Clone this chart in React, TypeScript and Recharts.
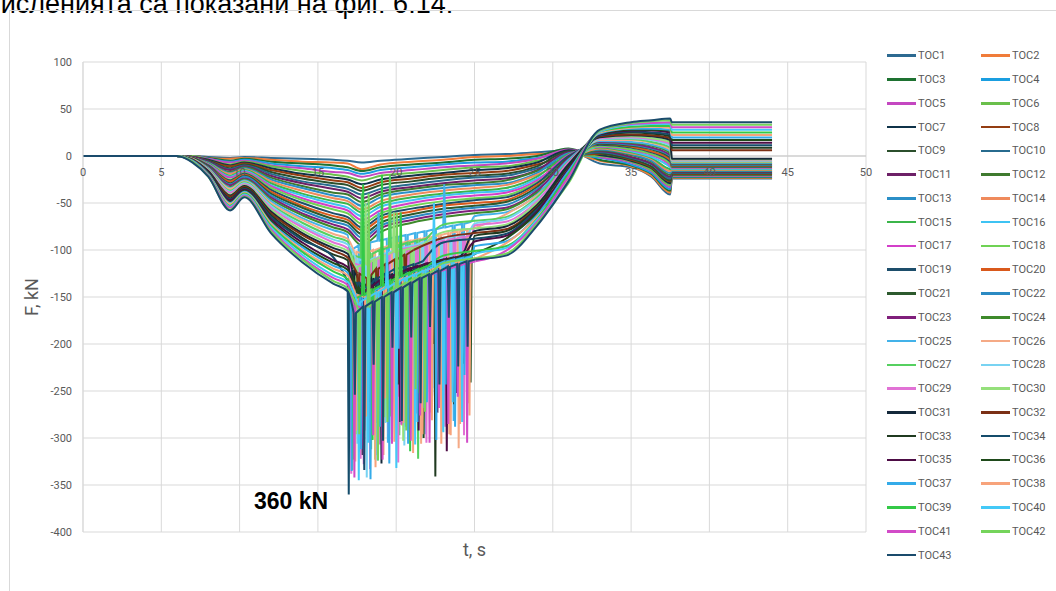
import React from 'react';
import { LineChart, Line, XAxis, YAxis, CartesianGrid, ReferenceLine, Label } from 'recharts';

// sample times of the smooth part of every record, s
const times = [0, 6, 7, 8, 9.4, 10.3, 12, 14, 16, 16.9, 17.8, 19, 21, 23, 25, 27, 29, 31, 33, 35, 36.3, 37.5, 37.6, 44];

// force F, kN at the times above
const toc1 = [0, 0, 0, -1, -2, -1, -2, -3, -4, -5, -7, -5, -3, -1, 1, 2, 4, 6, -8, -12, -22, -41, -24, -24];
const toc2 = [0, 0, 0, -2, -3, -2, -4, -6, -7, -8, -14, -9, -6, -4, -1, 0, 2, 3, -5, -11, -21, -39, -23.3, -23.3];
const toc3 = [0, 0, 0, -2, -5, -3, -6, -8, -10, -12, -16, -12, -9, -7, -4, -3, 0, 8, -4, -10, -19, -37, -22.6, -22.6];
const toc4 = [0, 0, 0, -3, -6, -4, -8, -11, -13, -15, -19, -15, -12, -9, -7, -6, -2, 2, -2, -9, -18, -35, -21.9, -21.9];
const toc5 = [0, 0, 0, -3, -7, -5, -10, -13, -17, -18, -22, -18, -15, -12, -10, -8, -3, 7, -1, -7, -16, -33, -21.2, -21.2];
const toc6 = [0, 0, 0, -4, -9, -6, -11, -16, -20, -22, -26, -21, -18, -15, -12, -11, -5, 1, 0, -6, -15, -31, -20.5, -20.5];
const toc7 = [0, 0, -1, -4, -10, -7, -13, -19, -23, -25, -30, -25, -21, -18, -15, -13, -7, 6, 1, -5, -13, -29, -19.8, -19.8];
const toc8 = [0, 0, -1, -5, -11, -8, -15, -21, -26, -28, -34, -28, -24, -20, -18, -16, -9, 0, 2, -4, -12, -27, -19.1, -19.1];
const toc9 = [0, 0, -1, -5, -13, -9, -17, -24, -29, -31, -37, -31, -27, -23, -21, -19, -11, 5, 3, -3, -11, -26, -18.4, -18.4];
const toc10 = [0, 0, -1, -6, -14, -10, -19, -27, -32, -35, -41, -35, -30, -26, -23, -21, -13, -2, 4, -2, -9, -24, -17.7, -17.7];
const toc11 = [0, 0, -1, -6, -15, -11, -21, -29, -35, -38, -45, -38, -33, -29, -26, -24, -15, 4, 5, -1, -8, -22, -17, -17];
const toc12 = [0, 0, -2, -7, -17, -12, -23, -32, -39, -41, -49, -41, -35, -31, -29, -26, -16, -3, 6, 1, -6, -20, -16.3, -16.3];
const toc13 = [0, 0, -2, -7, -18, -13, -25, -34, -42, -45, -53, -44, -38, -34, -31, -29, -18, 3, 7, 2, -5, -18, -15.6, -15.6];
const toc14 = [0, 0, -2, -8, -19, -14, -27, -37, -45, -48, -57, -48, -41, -37, -34, -31, -20, -4, 8, 3, -3, -16, -14.9, -14.9];
const toc15 = [0, 0, -2, -8, -21, -15, -29, -40, -48, -51, -60, -51, -44, -40, -37, -34, -22, 2, 9, 4, -2, -14, -14.2, -14.2];
const toc16 = [0, 0, -2, -9, -22, -16, -31, -42, -51, -55, -64, -54, -47, -42, -39, -37, -24, -6, 10, 5, -1, -12, -13.5, -13.5];
const toc17 = [0, 0, -2, -9, -23, -17, -32, -45, -54, -58, -68, -58, -50, -45, -42, -39, -26, 1, 10, 6, 1, -10, -12.8, -12.8];
const toc18 = [0, 0, -2, -10, -25, -18, -34, -47, -57, -61, -72, -61, -53, -48, -45, -42, -28, -7, 11, 7, 2, -8, -12.1, -12.1];
const toc19 = [0, 0, -2, -10, -26, -19, -36, -50, -61, -65, -76, -64, -56, -51, -47, -44, -29, 0, 12, 9, 4, -6, -11.4, -11.4];
const toc20 = [0, 0, -2, -11, -27, -20, -38, -53, -64, -68, -79, -67, -59, -53, -50, -47, -31, -8, 13, 10, 5, -4, -10.7, -10.7];
const toc21 = [0, 0, -2, -11, -29, -21, -40, -55, -67, -71, -83, -71, -62, -56, -53, -49, -33, -2, 13, 11, 7, -2, -10, -10];
const toc22 = [0, 0, -3, -12, -30, -22, -42, -58, -70, -74, -87, -74, -65, -59, -55, -52, -35, -10, 14, 12, 8, 0, -9.3, -9.3];
const toc23 = [0, 0, -3, -12, -31, -24, -44, -61, -73, -78, -91, -77, -68, -62, -58, -55, -37, -3, 15, 13, 9, 1, -8.6, -8.6];
const toc24 = [0, 0, -3, -13, -33, -25, -46, -63, -76, -81, -95, -81, -71, -65, -61, -57, -39, -12, 16, 14, 11, 3, -7.9, -7.9];
const toc25 = [0, 0, -3, -13, -34, -26, -48, -66, -79, -84, -98, -84, -74, -67, -64, -60, -41, -4, 16, 15, 12, 5, -7.2, -7.2];
const toc26 = [0, 0, -3, -14, -35, -27, -50, -68, -83, -88, -102, -87, -77, -70, -66, -62, -42, -13, 17, 17, 14, 7, -6.5, -6.5];
const toc27 = [0, 0, -4, -14, -37, -28, -52, -71, -86, -91, -106, -90, -80, -73, -69, -65, -44, -6, 18, 18, 15, 9, -5.8, -5.8];
const toc28 = [0, 0, -4, -15, -38, -29, -53, -74, -89, -94, -110, -94, -83, -76, -72, -67, -46, -15, 18, 19, 17, 11, -5.1, -5.1];
const toc29 = [0, 0, -4, -15, -39, -30, -55, -76, -92, -98, -114, -97, -86, -78, -74, -70, -48, -7, 19, 20, 18, 13, -4.4, -4.4];
const toc30 = [0, 0, -4, -16, -41, -31, -57, -79, -95, -101, -118, -100, -89, -81, -77, -73, -50, -17, 20, 21, 19, 15, -3.7, -3.7];
const toc31 = [0, 0, -4, -16, -42, -32, -59, -82, -98, -104, -121, -104, -92, -84, -80, -75, -52, -9, 20, 22, 21, 17, -3, -3];
const toc32 = [0, 0, -4, -17, -43, -33, -61, -84, -101, -108, -125, -107, -95, -87, -82, -78, -54, -19, 21, 23, 22, 19, 6, 6];
const toc33 = [0, 0, -5, -17, -45, -34, -63, -87, -105, -111, -129, -110, -97, -89, -85, -80, -55, -11, 22, 25, 24, 21, 8.7, 8.7];
const toc34 = [0, 0, -5, -18, -46, -35, -65, -89, -108, -114, -133, -113, -100, -92, -88, -83, -57, -21, 22, 26, 25, 23, 11.5, 11.5];
const toc35 = [0, 0, -5, -18, -47, -36, -67, -92, -111, -118, -137, -117, -103, -95, -91, -85, -59, -14, 23, 27, 27, 25, 14.2, 14.2];
const toc36 = [0, 0, -5, -19, -49, -37, -69, -95, -114, -121, -140, -120, -106, -98, -93, -88, -61, -23, 24, 28, 28, 27, 16.9, 16.9];
const toc37 = [0, 0, -5, -19, -50, -38, -71, -97, -117, -124, -144, -123, -109, -100, -96, -91, -63, -16, 24, 29, 29, 28, 19.7, 19.7];
const toc38 = [0, 0, -6, -20, -51, -39, -72, -100, -120, -127, -148, -127, -112, -103, -98, -93, -65, -25, 25, 30, 31, 30, 22.4, 22.4];
const toc39 = [0, 0, -6, -20, -53, -40, -74, -102, -123, -131, -152, -130, -115, -106, -101, -96, -67, -19, 26, 31, 32, 32, 25.1, 25.1];
const toc40 = [0, 0, -6, -21, -54, -41, -76, -105, -127, -134, -156, -133, -118, -109, -104, -98, -68, -27, 26, 33, 34, 34, 27.8, 27.8];
const toc41 = [0, 0, -6, -21, -55, -42, -78, -108, -130, -137, -159, -136, -121, -111, -107, -101, -70, -22, 27, 34, 35, 36, 30.6, 30.6];
const toc42 = [0, 0, -6, -22, -57, -43, -80, -110, -133, -141, -163, -140, -124, -114, -109, -104, -72, -29, 27, 35, 37, 38, 33.3, 33.3];
const toc43 = [0, 0, -7, -22, -58, -44, -82, -113, -136, -144, -167, -143, -127, -117, -112, -106, -74, -27, 28, 36, 38, 40, 36, 36];

// oscillating part of TOC25..TOC43: base, peak, base, peak, ... every 0.3 s from its start time
const spikeStep = 0.3;
const spikeStarts = [17.0, 17.32, 17.13, 17.45, 17.06, 17.38, 17.19, 17.51, 17.03, 16.9, 17.16, 17.48, 17.09, 17.41, 17.22, 17.54, 17.26, 17.57, 17.29];
const spike25 = [-100, -285, -95, -315, -92, -262, -90, -60, -88, -305, -86, -245, -84, -275, -82, -228, -80, -296, -78, -255, -76, -30, -74, -282, -72, -238, -70];
const spike26 = [-102, -325, -104, -292, -100, -271, -97, -318, -94, -262, -92, -287, -90, -244, -88, -306, -86, -273, -84, -252, -82, -296, -80, -311, -78, -263, -76];
const spike27 = [-106, -334, -108, -40, -104, -312, -100, -276, -97, -20, -95, -297, -92, -258, -90, -322, -88];
const spike28 = [-110, -306, -112, -342, -108, -318, -104, -284, -100, -266, -97, -308, -95, -254, -92, -281, -90, -247, -88, -293, -86, -236, -84, -268, -82];
const spike29 = [-114, -338, -116, -322, -112, -333, -108, -307, -104, -296, -100, -326, -98, -286, -96, -274, -94, -305, -92, -265, -90, -288, -88, -252, -86, -297, -84];
const spike30 = [-118, -296, -115, -50, -110, -323, -106, -278, -102, -60, -100, -303, -98, -246, -96];
const spike31 = [-121, -243, -140, -318, -130, -222, -150, -327, -125, -204, -140, -283, -120, -193, -130, -262, -115, -184, -120, -251, -110, -172, -112, -233, -100];
const spike32 = [-125, -200, -130, -170, -120, -190, -115, -160, -110, -180, -105, -150, -100];
const spike33 = [-129, -205, -150, -236, -140, -262, -135, -192, -130, -214, -125, -243, -120, -182, -118, -205, -115, -172, -112, -341, -110, -193, -108, -264, -106, -221, -104];
const spike34 = [-133, -360, -135, -254, -140, -203, -130, -284, -125, -192, -120, -233, -118, -171, -115, -212, -112];
const spike35 = [-137, -224, -145, -308, -138, -203, -132, -287, -128, -194, -124, -256, -120, -182, -117, -292, -114, -204, -112, -273, -110, -314, -108, -252, -106];
const spike36 = [-140, -230, -150, -210, -140, -270, -135, -200, -130, -180, -125, -240, -122, -190, -118, -300, -115, -200, -112, -250, -110, -180, -108, -230, -106, -241, -102];
const spike37 = [-144, -335, -150, -312, -146, -344, -140, -288, -135, -327, -130, -205, -125, -306, -122, -283, -118, -262, -115, -302, -112, -243, -110, -288, -108, -233, -106];
const spike38 = [-148, -292, -150, -277, -145, -331, -140, -258, -135, -304, -130, -284, -126, -316, -122, -296, -120, -281, -117, -306, -114, -297, -112, -285, -110, -276, -108];
const spike39 = [-152, -323, -148, -30, -142, -302, -138, -20, -132, -277, -128, -60, -124, -314, -120, -252, -117];
const spike40 = [-156, -345, -150, -305, -145, -324, -140, -100, -135, -332, -130, -288, -126, -307, -122, -268, -118, -50, -115, -294, -112, -262, -110, -283, -108];
const spike41 = [-159, -342, -162, -328, -155, -297, -150, -323, -145, -306, -140, -286, -135, -303, -130, -276, -127, -305, -123, -268, -120, -285, -117, -256, -114, -305, -112];
const spike42 = [-163, -296, -160, -40, -152, -324, -146, -283, -140, -60, -135, -292, -130, -248, -126, -272, -122];
const spike43 = [-167, -254, -160, -334, -155, -222, -150, -303, -145, -204, -140, -282, -135, -193, -130, -263, -126, -182, -122, -243, -118, -172, -115, -224, -112, -203, -110];

const xTicks = [0, 5, 10, 15, 20, 25, 30, 35, 40, 45, 50];
const yTicks = [100, 50, 0, -50, -100, -150, -200, -250, -300, -350, -400];

const colors = [
  '#2d6a91', '#f07c3a', '#1e7231', '#1a9ee0', '#c447c1', '#6abf4b', '#0f3349', '#943d12',
  '#2b4f2c', '#276b8e', '#6d2067', '#3f7a2f', '#2b8fc7', '#ef8a5c', '#3bb54a', '#3ec3f3',
  '#d33fc9', '#6fd254', '#1d4e6b', '#d9591c', '#2d5a2e', '#2b8ac3', '#801f7b', '#3e8a2b',
  '#43b2e9', '#f5aa86', '#56d060', '#78d3f2', '#e172d5', '#95e07b', '#14293b', '#7b3015',
  '#203a20', '#144c6b', '#4d0c45', '#1f4a1b', '#34abe9', '#f7a37b', '#34c947', '#44c9f7',
  '#d24bc8', '#75d45b', '#1a4b6c',
];

const records = [
  toc1, toc2, toc3, toc4, toc5, toc6, toc7, toc8, toc9, toc10, toc11, toc12, toc13, toc14, toc15,
  toc16, toc17, toc18, toc19, toc20, toc21, toc22, toc23, toc24, toc25, toc26, toc27, toc28, toc29,
  toc30, toc31, toc32, toc33, toc34, toc35, toc36, toc37, toc38, toc39, toc40, toc41, toc42, toc43,
];
const spikes = [
  spike25, spike26, spike27, spike28, spike29, spike30, spike31, spike32, spike33, spike34,
  spike35, spike36, spike37, spike38, spike39, spike40, spike41, spike42, spike43,
];
const FIRST_SPIKY = 24;
const PEAK_WIDTH = 0.14; // s, a peak is a short excursion from the base

type Pt = { t: number; v: number };
type Seg = { type: 'monotone' | 'linear'; data: Pt[] };

const series = records.map((vals, i) => {
  const smooth: Pt[] = times.map((t, j) => ({ t, v: vals[j] }));
  const k = i - FIRST_SPIKY;
  const name = `TOC${i + 1}`;
  if (k < 0) return { name, color: colors[i], segs: [{ type: 'monotone', data: smooth }] as Seg[] };
  const spike = spikes[k];
  const start = spikeStarts[k];
  const end = start + spikeStep * (spike.length - 1);
  const burst: Pt[] = [];
  spike.forEach((v, n) => {
    if (n % 2 === 0) {
      burst.push({ t: start + n * spikeStep, v });
    } else {
      const t0 = start + (n - 1) * spikeStep;
      burst.push({ t: t0 + PEAK_WIDTH / 2, v });
      burst.push({ t: t0 + PEAK_WIDTH, v: spike[n - 1] });
    }
  });
  const segs: Seg[] = [
    { type: 'monotone', data: [...smooth.filter((p) => p.t < start), burst[0]] },
    { type: 'linear', data: burst },
    { type: 'monotone', data: [burst[burst.length - 1], ...smooth.filter((p) => p.t > end)] },
  ];
  return { name, color: colors[i], segs };
});

const W = 1056;
const H = 591;
const Y_MIN = -400;
const Y_MAX = 100;
const PLOT_TOP = 62;
const PLOT_BOTTOM = 532;
const zeroY = PLOT_TOP + (Y_MAX / (Y_MAX - Y_MIN)) * (PLOT_BOTTOM - PLOT_TOP);
const FONT = 'Roboto, "Liberation Sans", sans-serif';
const GREY = '#595959';

function XTick({ x, payload }: { x?: number; payload?: { value: number } }) {
  return (
    <text x={x} y={zeroY + 20} textAnchor="middle" fill={GREY} fontSize={11} fontFamily={FONT}>
      {payload?.value}
    </text>
  );
}

function renderXTitle(props: any) {
  const vb = props.viewBox;
  return (
    <text x={vb.x + vb.width / 2} y={vb.y + 24} textAnchor="middle" fill={GREY} fontSize={18} fontFamily={FONT}>
      t, s
    </text>
  );
}

function renderYTitle(props: any) {
  const vb = props.viewBox;
  const cx = vb.x + 31;
  const cy = vb.y + vb.height / 2;
  return (
    <text
      x={cx}
      y={cy}
      transform={`rotate(-90 ${cx} ${cy})`}
      textAnchor="middle"
      dominantBaseline="central"
      fill={GREY}
      fontSize={18}
      fontFamily={FONT}
    >
      F, kN
    </text>
  );
}

function SeriesLegend() {
  return (
    <>
      {series.map((s, i) => {
        const col = i % 2;
        const row = Math.floor(i / 2);
        return (
          <div
            key={s.name}
            style={{
              position: 'absolute',
              left: col ? 981 : 887,
              top: 55.7 + row * 23.78 - 8,
              height: 16,
              display: 'flex',
              alignItems: 'center',
              fontSize: 11,
              color: GREY,
              fontFamily: FONT,
              whiteSpace: 'nowrap',
            }}
          >
            <div style={{ width: 29, height: 2.5, background: s.color, marginRight: 2 }} />
            {s.name}
          </div>
        );
      })}
    </>
  );
}

export default function App() {
  return (
    <div style={{ position: 'absolute', left: 0, top: 0, width: W, height: H, overflow: 'hidden', background: '#fff' }}>
      <div
        style={{
          position: 'absolute',
          left: -40,
          top: -9,
          fontSize: 27,
          lineHeight: '27px',
          fontFamily: '"Liberation Sans", Arial, sans-serif',
          color: '#000',
          whiteSpace: 'nowrap',
        }}
      >
        изчисленията са показани на фиг. 6.14.
      </div>
      <div style={{ position: 'absolute', left: 9, top: 10, width: 1100, height: 700, border: '1px solid #d9d9d9' }} />
      <LineChart
        width={W}
        height={H}
        margin={{ top: PLOT_TOP, right: 190, bottom: 0, left: 0 }}
        style={{ position: 'absolute', left: 0, top: 0 }}
      >
        <CartesianGrid stroke="#d9d9d9" />
        <XAxis
          type="number"
          dataKey="t"
          domain={[0, 50]}
          ticks={xTicks}
          interval={0}
          allowDataOverflow
          height={H - PLOT_BOTTOM}
          axisLine={false}
          tickLine={false}
          tick={<XTick />}
        >
          <Label content={renderXTitle} />
        </XAxis>
        <YAxis
          type="number"
          domain={[Y_MIN, Y_MAX]}
          ticks={yTicks}
          interval={0}
          width={83}
          axisLine={{ stroke: '#d9d9d9' }}
          tickLine={false}
          tickSize={0}
          tickMargin={11}
          tick={{ fill: GREY, fontSize: 11, fontFamily: FONT }}
        >
          <Label content={renderYTitle} />
        </YAxis>
        <ReferenceLine y={0} stroke="#c8c8c8" />
        {series.flatMap((s) =>
          s.segs.map((seg, j) => (
            <Line
              key={`${s.name}-${j}`}
              data={seg.data}
              dataKey="v"
              name={s.name}
              type={seg.type}
              stroke={s.color}
              strokeWidth={2}
              dot={false}
              isAnimationActive={false}
            />
          )),
        )}
      </LineChart>
      <div
        style={{
          position: 'absolute',
          left: 254,
          top: 490,
          fontSize: 23,
          lineHeight: '23px',
          fontWeight: 'bold',
          fontFamily: '"Liberation Sans", Arial, sans-serif',
          color: '#000',
          whiteSpace: 'nowrap',
        }}
      >
        360 kN
      </div>
      <SeriesLegend />
    </div>
  );
}
